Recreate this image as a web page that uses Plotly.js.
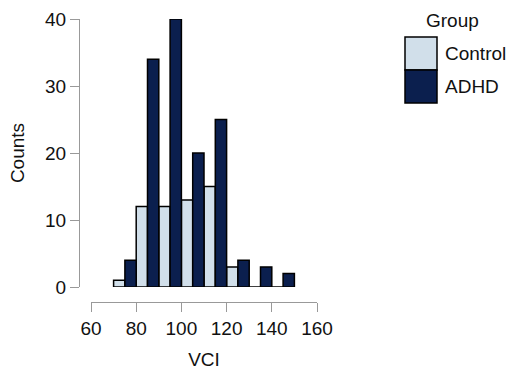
<!DOCTYPE html>
<html>
<head>
<meta charset="utf-8">
<script src="https://cdn.plot.ly/plotly-3.0.1.min.js"></script>
<style>html,body{margin:0;padding:0;background:#fff;}#chart{width:509px;height:376px;}</style>
</head>
<body>
<div id="chart"></div>
<script>
const binCenters = [75, 85, 95, 105, 115, 125, 135, 145];
const controlCounts = [1, 12, 12, 13, 15, 3, 0, 0];
const adhdCounts = [4, 34, 40, 20, 25, 4, 3, 2];
const xTicks = [60, 80, 100, 120, 140, 160];
const yTicks = [0, 10, 20, 30, 40];
const groupNames = ['Control', 'ADHD'];
const colors = ['#d1dfea', '#0b1f4e'];

const font = {family: 'Liberation Sans, Arial, sans-serif', size: 19, color: '#111'};
const legFont = {family: 'Liberation Sans, Arial, sans-serif', size: 19, color: '#111'};

const traces = [controlCounts, adhdCounts].map((vals, i) => ({
  type: 'bar', x: binCenters, y: vals, name: groupNames[i], width: 5,
  offset: i === 0 ? -5 : 0,
  marker: {color: colors[i], line: {color: '#000', width: 1.5}},
  showlegend: false, hoverinfo: 'skip'
}));

const L = 70, R = 320, T = 10, B = 315;
const pw = R - L, ph = B - T;
const px = v => (v - L) / pw;
const py = v => (B - v) / ph;

const shapes = [];
const annotations = [];
annotations.push({xref: 'paper', yref: 'paper', x: px(452), y: py(20), text: 'Group', showarrow: false,
  font: legFont, xanchor: 'center', yanchor: 'middle'});
groupNames.forEach((g, i) => {
  const top = 37 + i * 33;
  shapes.push({type: 'rect', xref: 'paper', yref: 'paper', x0: px(405), x1: px(437), y0: py(top), y1: py(top + 33),
    fillcolor: colors[i], line: {color: '#000', width: 1.5}});
  annotations.push({xref: 'paper', yref: 'paper', x: px(443), y: py(top + 16.5), text: g, showarrow: false,
    font: legFont, xanchor: 'left', yanchor: 'middle'});
});

const layout = {
  width: 509, height: 376,
  margin: {l: L, r: 509 - R, t: T, b: 376 - B},
  paper_bgcolor: '#fff', plot_bgcolor: '#fff',
  font: font,
  barmode: 'overlay', bargap: 0,
  showlegend: false,
  xaxis: {
    range: [60, 160], domain: [px(91), px(317)], anchor: 'free', position: py(302),
    tickvals: xTicks, ticktext: xTicks.map(String),
    showgrid: false, zeroline: false, showline: true, linecolor: '#999', linewidth: 1,
    ticks: 'outside', ticklen: 9, tickcolor: '#999', tickwidth: 1,
    tickfont: font,
    title: {text: 'VCI', font: font, standoff: 14}
  },
  yaxis: {
    range: [0, 40], domain: [py(287), py(19)], anchor: 'free', position: px(79),
    tickvals: yTicks, ticktext: yTicks.map(String),
    showgrid: false, zeroline: false, showline: true, linecolor: '#999', linewidth: 1,
    ticks: 'outside', ticklen: 9, tickcolor: '#999', tickwidth: 1,
    tickfont: font,
    title: {text: 'Counts', font: font, standoff: 14}
  },
  shapes: shapes,
  annotations: annotations
};

Plotly.newPlot('chart', traces, layout, {displayModeBar: false, staticPlot: true});
</script>
</body>
</html>
